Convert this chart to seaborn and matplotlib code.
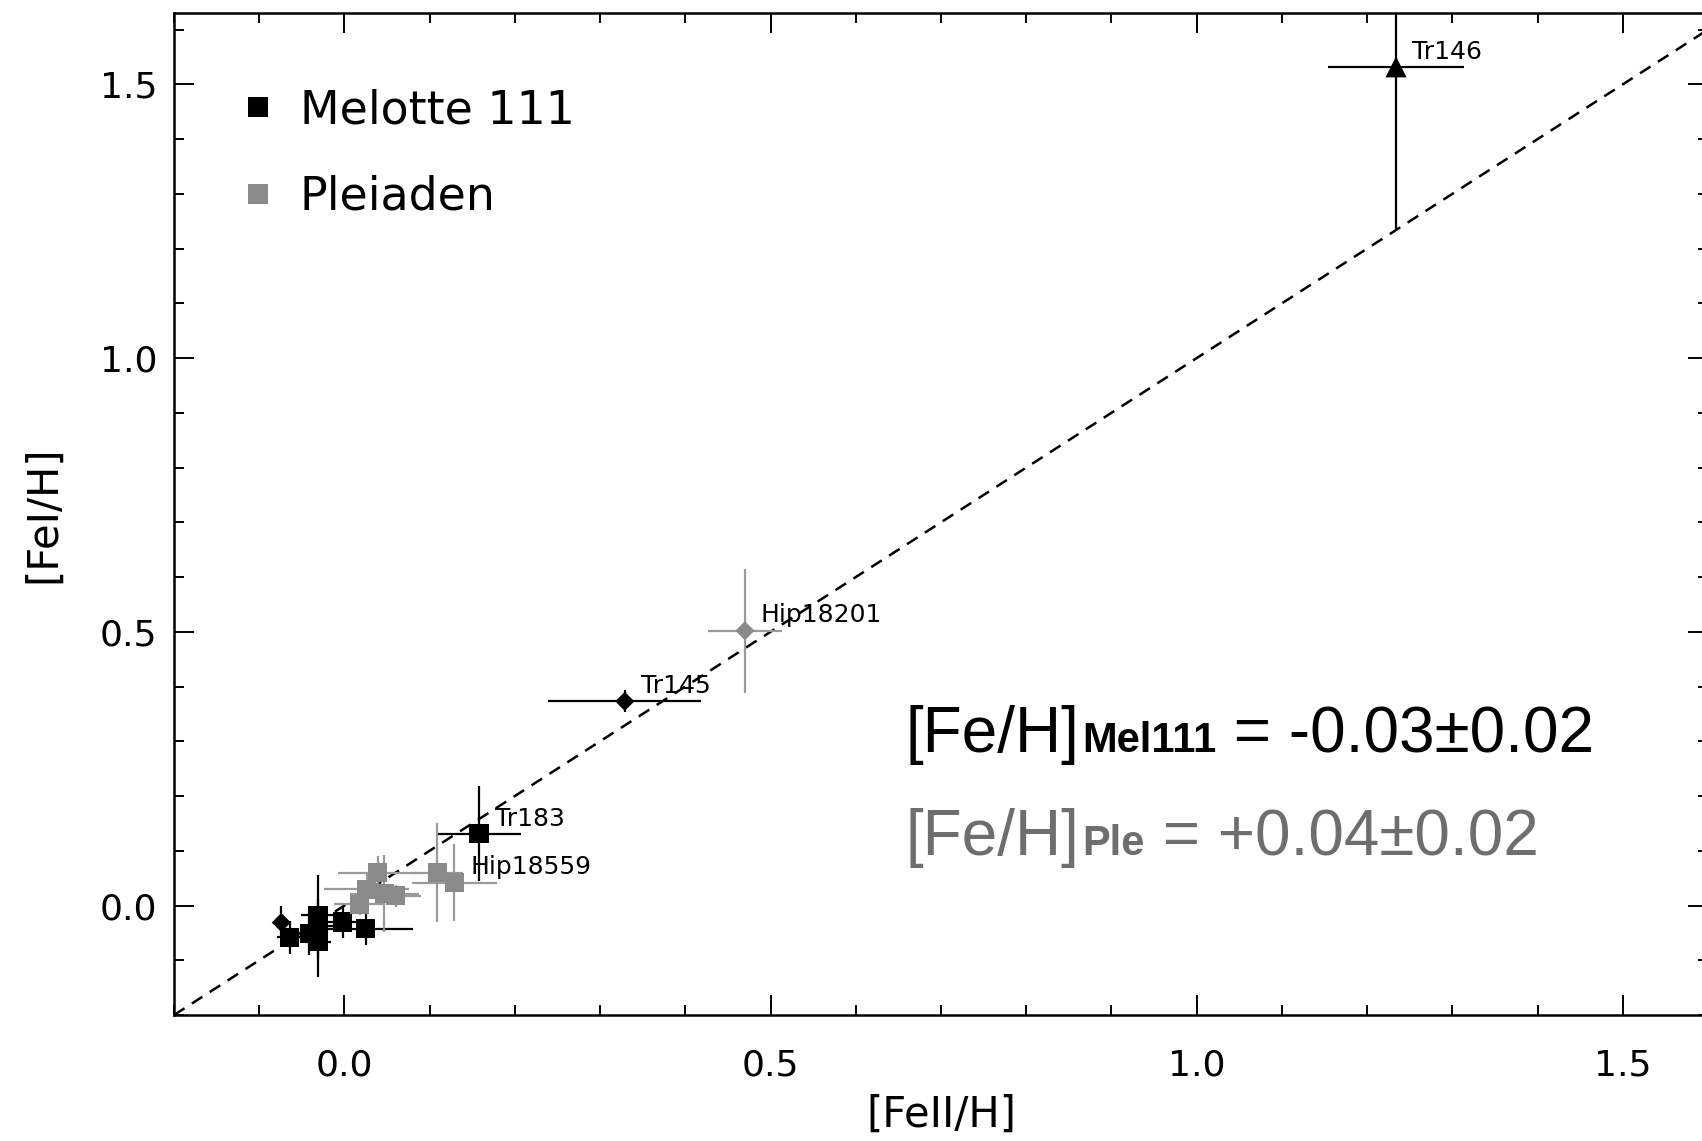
import numpy as np
import pandas as pd
import matplotlib
matplotlib.use("Agg")
import matplotlib.pyplot as plt
import seaborn as sns
from matplotlib.lines import Line2D
from matplotlib.ticker import MultipleLocator, FormatStrFormatter

# ---------------- data ----------------
mel_x = [-0.074, -0.064, -0.041, -0.031, -0.031, -0.031, -0.002, 0.025, 0.158, 0.329, 1.234]
mel_y = [-0.031, -0.058, -0.051, -0.018, -0.037, -0.066, -0.030, -0.042, 0.131, 0.373, 1.532]
mel_xerr = [0.010, 0.015, 0.020, 0.020, 0.020, 0.015, 0.020, 0.055, 0.049, 0.090, 0.080]
mel_yerr = [0.030, 0.030, 0.040, 0.030, 0.093, 0.030, 0.030, 0.030, 0.087, 0.020, 0.300]
mel_shape = ["diamond", "square", "square", "square", "square", "square", "square",
             "square", "square", "diamond", "triangle"]

ple_x = [0.018, 0.026, 0.039, 0.047, 0.060, 0.109, 0.129, 0.470]
ple_y = [0.002, 0.030, 0.060, 0.022, 0.018, 0.060, 0.042, 0.502]
ple_xerr = [0.030, 0.050, 0.047, 0.040, 0.030, 0.030, 0.050, 0.043]
ple_yerr = [0.020, 0.030, 0.030, 0.070, 0.020, 0.090, 0.070, 0.113]
ple_shape = ["square"] * 7 + ["diamond"]

# labelled stars: (cluster, index into that cluster's arrays)
star_names = ["Tr146", "Tr145", "Tr183", "Hip18201", "Hip18559"]
star_cluster = ["Melotte 111", "Melotte 111", "Melotte 111", "Pleiaden", "Pleiaden"]
star_index = [10, 9, 8, 7, 6]

one_to_one = [-0.2, 1.6]

clusters = ["Melotte 111", "Pleiaden"]
stat_text = [("[Fe/H]", "Mel111", " = -0.03±0.02"), ("[Fe/H]", "Ple", " = +0.04±0.02")]

# ---------------- styling ----------------
sns.set_style("ticks")
plt.rcParams["font.family"] = ["DejaVu Sans"]
plt.rcParams["text.color"] = "black"
plt.rcParams["axes.labelcolor"] = "black"
plt.rcParams["xtick.color"] = "black"
plt.rcParams["ytick.color"] = "black"

colors = {"Melotte 111": "#000000", "Pleiaden": "#8a8a8a"}
ecolors = {"Melotte 111": "#000000", "Pleiaden": "#9a9a9a"}
text_colors = {"Melotte 111": "#000000", "Pleiaden": "#6e6e6e"}

df = pd.concat([
    pd.DataFrame({"x": mel_x, "y": mel_y, "xerr": mel_xerr, "yerr": mel_yerr,
                  "shape": mel_shape, "cluster": "Melotte 111"}),
    pd.DataFrame({"x": ple_x, "y": ple_y, "xerr": ple_xerr, "yerr": ple_yerr,
                  "shape": ple_shape, "cluster": "Pleiaden"}),
], ignore_index=True)

fig = plt.figure(figsize=(17.02, 11.41), dpi=100)
ax = fig.add_axes([0.1022, 0.1104, 0.9013, 0.878])

# 1:1 line
ax.plot(one_to_one, one_to_one, color="black", lw=1.8, ls=(0, (5, 3.5)), zorder=1)

# error bars
for cl in clusters:
    sub = df[df.cluster == cl]
    ax.errorbar(sub.x, sub.y, xerr=sub.xerr, yerr=sub.yerr, fmt="none",
                ecolor=ecolors[cl], elinewidth=1.6, capsize=0, zorder=2)

# markers via seaborn
sns.scatterplot(data=df, x="x", y="y", hue="cluster", palette=colors,
                style="shape", markers={"square": "s", "diamond": "D", "triangle": "^"},
                size="shape", sizes={"square": 190, "diamond": 95, "triangle": 230},
                linewidth=0, legend=False, ax=ax, zorder=3)

# star labels
for name, cl, idx in zip(star_names, star_cluster, star_index):
    sub = df[df.cluster == cl].reset_index(drop=True)
    ax.annotate(name, xy=(sub.x[idx], sub.y[idx]), xytext=(11.5, 6),
                textcoords="offset points", fontsize=18, va="baseline", ha="left",
                color="black", zorder=4)

ax.set_xlim(-0.2, 1.6)
ax.set_ylim(-0.2, 1.63)
ax.xaxis.set_major_locator(MultipleLocator(0.5))
ax.xaxis.set_minor_locator(MultipleLocator(0.1))
ax.yaxis.set_major_locator(MultipleLocator(0.5))
ax.yaxis.set_minor_locator(MultipleLocator(0.1))
ax.xaxis.set_major_formatter(FormatStrFormatter("%.1f"))
ax.yaxis.set_major_formatter(FormatStrFormatter("%.1f"))
ax.tick_params(which="both", direction="in", top=True, right=True, width=1.4,
               color="black", labelcolor="black")
ax.tick_params(which="major", length=14.5)
ax.tick_params(which="minor", length=7.2)
ax.tick_params(axis="x", which="major", labelsize=26, pad=24)
ax.tick_params(axis="y", which="major", labelsize=26, pad=12)
for sp in ax.spines.values():
    sp.set_linewidth(1.8)
    sp.set_color("black")

ax.set_xlabel("[FeII/H]", fontsize=30, color="black")
ax.set_ylabel("[FeI/H]", fontsize=30, color="black")
ax.xaxis.set_label_coords(0.5, -0.10)
ax.xaxis.label.set_va("center")
ax.yaxis.set_label_coords(-0.0854, 0.5)
ax.yaxis.label.set_va("center")

# legend
handles = [Line2D([], [], marker="s", ls="none", color=colors[c], ms=14, mew=0) for c in clusters]
leg = ax.legend(handles, clusters, loc="upper left", bbox_to_anchor=(0.0457, 0.925),
                frameon=False, fontsize=33, handlelength=0.6, handletextpad=0.62,
                labelspacing=0.9, borderpad=0, borderaxespad=0, labelcolor="black")

# statistics text
main_family = ["Liberation Sans"]
ys = [0.2625, 0.1597]
for (a, b, c), yy, cl in zip(stat_text, ys, clusters):
    col = text_colors[cl]
    t1 = ax.text(0.477, yy, a, transform=ax.transAxes, fontsize=46, family=main_family,
                 va="baseline", ha="left", color=col)
    t2 = ax.annotate(b, xy=(1, yy), xycoords=(t1, "axes fraction"), xytext=(2, 0),
                     textcoords="offset points", fontsize=30, fontweight="bold",
                     family=main_family, va="baseline", ha="left", color=col)
    ax.annotate(c, xy=(1, yy), xycoords=(t2, "axes fraction"), xytext=(0, 0),
                textcoords="offset points", fontsize=46, family=main_family,
                va="baseline", ha="left", color=col)

fig.savefig("out.png", dpi=100)
